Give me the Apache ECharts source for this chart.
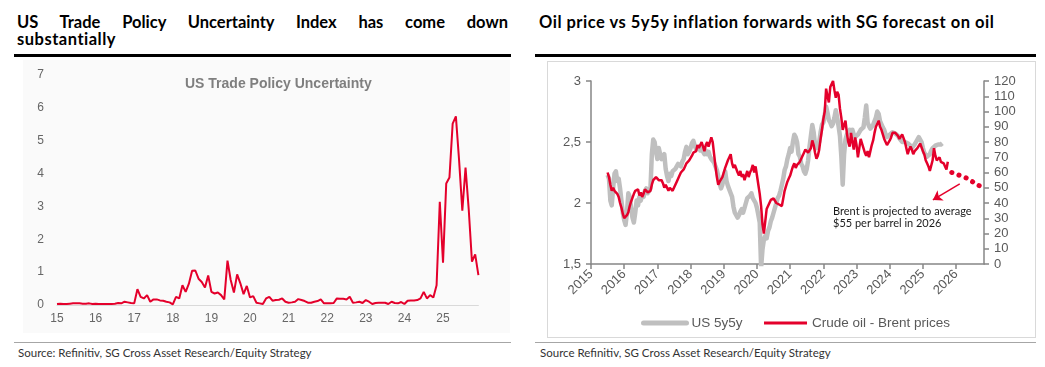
<!DOCTYPE html>
<html><head><meta charset="utf-8">
<script src="https://cdn.jsdelivr.net/npm/echarts@6/dist/echarts.min.js"></script>
<style>
html,body{margin:0;padding:0;background:#fff;width:1045px;height:367px;overflow:hidden;}
.abs{position:absolute;}
.head{font-family:Lato,'Noto Sans',sans-serif;font-weight:700;font-size:16.5px;color:#000;line-height:17px;letter-spacing:0.5px}
.src{font-family:Lato,'Noto Sans',sans-serif;font-size:11.5px;color:#333;line-height:12px;white-space:nowrap}
</style></head><body>
<div class="abs" style="left:23px;top:60px;width:487px;height:273px;background:#fafafa"></div>
<div class="abs" style="left:547px;top:61px;width:489px;height:277px;border:1px solid #d9d9d9;box-sizing:border-box"></div>
<div class="abs head" style="left:17px;top:14px;width:491px;text-align:justify;text-align-last:justify;letter-spacing:0">US Trade Policy Uncertainty Index has come down</div>
<div class="abs head" style="left:17px;top:31px;white-space:nowrap">substantially</div>
<div class="abs head" style="left:539px;top:14px;white-space:nowrap">Oil price vs 5y5y inflation forwards with SG forecast on oil</div>
<div class="abs" style="left:14px;top:54px;width:497px;height:3px;background:#000"></div>
<div class="abs" style="left:535px;top:54px;width:501px;height:3px;background:#000"></div>
<div class="abs" style="left:14px;top:342px;width:497px;height:1px;background:#a6a6a6"></div>
<div class="abs" style="left:535px;top:342px;width:501px;height:1px;background:#a6a6a6"></div>
<div class="abs src" style="left:18px;top:347px">Source: Refinitiv, SG Cross Asset Research/Equity Strategy</div>
<div class="abs src" style="left:540px;top:347px">Source Refinitiv, SG Cross Asset Research/Equity Strategy</div>
<div id="chart" class="abs" style="left:0;top:0;width:1045px;height:367px"></div>
<script>
// US Trade Policy Uncertainty, monthly Jan 2015 .. Dec 2025
const tpuStartYear = 15;
const tpuMonthly = [
  0.03,0.04,0.03,0.03,0.04,0.05,0.05,0.05,0.04,0.04,0.05,0.03,
  0.04,0.03,0.03,0.03,0.03,0.03,0.04,0.06,0.05,0.10,0.08,0.06,
  0.05,0.48,0.25,0.20,0.30,0.10,0.17,0.17,0.14,0.13,0.10,0.08,
  0.02,0.25,0.20,0.60,0.40,0.65,1.04,1.05,0.80,0.70,0.53,0.90,
  0.40,0.35,0.38,0.30,0.17,1.35,0.76,0.38,0.93,0.66,0.33,0.58,
  0.23,0.27,0.07,0.05,0.03,0.20,0.25,0.13,0.15,0.16,0.20,0.10,
  0.07,0.08,0.10,0.18,0.15,0.12,0.07,0.07,0.10,0.12,0.17,0.05,
  0.05,0.05,0.06,0.20,0.19,0.19,0.17,0.25,0.07,0.08,0.10,0.06,
  0.15,0.10,0.03,0.06,0.07,0.07,0.07,0.03,0.10,0.06,0.05,0.09,
  0.03,0.13,0.14,0.14,0.15,0.20,0.40,0.20,0.30,0.23,0.60,3.14,
  1.29,3.70,3.88,5.52,5.74,4.40,2.87,4.18,2.90,1.32,1.54,0.91
];
const tpuYearLabels = ['15','16','17','18','19','20','21','22','23','24','25'];

// Right chart: half-monthly values starting 1 Jul 2015
const halfMonthStart = 2015.5;
const brentHalfMonthly = [
  60,57,52,48,50,48,48,46,44,40,37,33,
  30,29,32,34,38,41,42,46,48,47,49,45,47,44,46,49,50,47,46,48,52,55,54,57,
  57,55,54,55,53,50,52,51,48,50,51,48,50,52,54,55,58,60,61,62,64,66,65,68,
  69,71,73,72,74,78,76,77,80,79,74,78,80,77,80,83,80,72,64,57,52,54,55,57,
  60,63,64,68,70,72,66,63,65,66,60,58,61,57,59,55,58,61,57,60,62,65,60,64,
  58,52,46,38,26,20,28,36,38,39,42,41,43,42,40,41,39,38,38,43,48,51,54,56,
  58,61,64,66,63,65,64,67,68,71,73,75,76,73,72,76,81,78,73,69,71,75,82,88,
  95,100,115,110,106,116,118,120,114,109,113,111,102,96,88,91,94,86,80,77,86,80,75,83,
  78,70,76,82,79,76,73,71,74,70,74,78,81,86,90,92,94,90,88,85,82,80,78,79,
  81,83,86,87,86,87,84,82,83,85,84,80,76,72,75,77,75,72,74,73,76,75,79,80,
  74,72,68,66,64,61,62,68,76,71,68,69,70,67,68,66,64,62,67
];
const us5y5yHalfMonthly = [
  2.23,2.20,2.02,1.98,2.12,2.24,2.26,2.18,2.20,2.12,2.02,1.92,
  1.86,1.82,1.92,2.08,2.05,1.96,1.88,1.84,1.92,2.02,1.98,2.05,2.02,2.07,2.05,2.10,2.12,2.08,2.10,2.12,2.40,2.52,2.50,2.42,
  2.36,2.45,2.40,2.36,2.38,2.40,2.28,2.22,2.18,2.24,2.22,2.26,2.25,2.28,2.30,2.32,2.31,2.30,2.34,2.36,2.42,2.46,2.40,2.42,
  2.45,2.49,2.51,2.47,2.44,2.45,2.46,2.43,2.45,2.42,2.40,2.43,2.40,2.42,2.38,2.36,2.35,2.33,2.30,2.27,2.22,2.16,2.12,2.15,
  2.22,2.26,2.18,2.14,2.15,2.08,2.05,1.97,1.92,1.90,1.88,1.90,1.93,1.95,1.92,1.96,2.00,2.04,2.05,2.06,2.08,2.04,2.05,2.00,
  1.96,1.90,1.84,1.47,1.62,1.70,1.73,1.71,1.77,1.80,1.85,1.88,1.92,1.96,2.00,2.04,2.06,2.10,2.15,2.20,2.27,2.30,2.36,2.40,
  2.45,2.42,2.50,2.56,2.54,2.50,2.40,2.38,2.32,2.30,2.26,2.24,2.28,2.35,2.46,2.55,2.64,2.58,2.48,2.45,2.48,2.50,2.58,2.64,
  2.66,2.72,2.79,2.74,2.68,2.66,2.63,2.65,2.70,2.76,2.70,2.63,2.55,2.38,2.15,2.40,2.52,2.56,2.58,2.60,2.58,2.60,2.56,2.54,
  2.54,2.56,2.58,2.60,2.61,2.62,2.70,2.80,2.66,2.63,2.61,2.62,2.64,2.65,2.70,2.75,2.73,2.67,2.66,2.62,2.60,2.56,2.54,2.55,
  2.56,2.57,2.58,2.58,2.57,2.56,2.55,2.53,2.52,2.50,2.49,2.50,2.50,2.49,2.48,2.47,2.45,2.46,2.48,2.50,2.52,2.54,2.53,2.50,
  2.45,2.41,2.40,2.38,2.38,2.40,2.43,2.45,2.46,2.47,2.48,2.48,2.48,2.48,2.49
];
// SG forecast for Brent (decimal year, USD)
const forecastYears = [2025.87, 2026.3, 2026.72];
const forecastBrent = [60, 56.5, 51];
const oilYearLabels = ['2015','2016','2017','2018','2019','2020','2021','2022','2023','2024','2025','2026'];

const RED = '#e4002b', GREY = '#bfbfbf', AX = '#868686', LBL = '#595959';
const FONT = '"Liberation Sans", Arial, sans-serif';

const chart = echarts.init(document.getElementById('chart'));
chart.setOption({
  animation: false,
  backgroundColor: 'transparent',
  textStyle: { fontFamily: FONT },
  grid: [
    { left: 57, top: 75, width: 421.4, height: 230 },
    { left: 591, top: 81, width: 393, height: 183 }
  ],
  legend: {
    data: [
      { name: 'US 5y5y', lineStyle: { width: 5, cap: 'round', color: GREY } },
      { name: 'Crude oil - Brent prices', lineStyle: { width: 3, color: RED } }
    ],
    left: 636, top: 311, itemWidth: 43, itemHeight: 14, itemGap: 20,
    itemStyle: { opacity: 0 },
    textStyle: { fontSize: 13.5, color: LBL, fontFamily: FONT }
  },
  xAxis: [
    { gridIndex: 0, type: 'value', min: tpuStartYear, max: tpuStartYear + (tpuMonthly.length - 1) / 12, interval: 1,
      axisLine: { lineStyle: { color: '#d9d9d9', width: 1 } }, axisTick: { show: false }, splitLine: { show: false },
      axisLabel: { color: '#666', fontSize: 12, margin: 8, showMaxLabel: false,
        formatter: v => Number.isInteger(v) ? tpuYearLabels[v - tpuStartYear] || '' : '' } },
    { gridIndex: 1, type: 'value', min: 2015, max: 2026.84, interval: 1,
      axisLine: { lineStyle: { color: AX, width: 1.5 } },
      axisTick: { show: true, length: 5, lineStyle: { color: AX, width: 1.5 } }, splitLine: { show: false },
      axisLabel: { rotate: 45, color: LBL, fontSize: 13, margin: 8, showMaxLabel: false,
        formatter: v => Number.isInteger(v) ? oilYearLabels[v - 2015] || '' : '' } }
  ],
  yAxis: [
    { gridIndex: 0, type: 'value', min: 0, max: 7, interval: 1,
      axisLine: { show: false }, axisTick: { show: false }, splitLine: { show: false },
      axisLabel: { color: '#666', fontSize: 12, margin: 13 } },
    { gridIndex: 1, type: 'value', position: 'left', min: 1.5, max: 3, interval: 0.5,
      axisLine: { show: true, lineStyle: { color: AX, width: 1.5 } },
      axisTick: { show: true, length: 5, lineStyle: { color: AX, width: 1.5 } }, splitLine: { show: false },
      axisLabel: { color: LBL, fontSize: 13, margin: 10, formatter: v => String(v).replace('.', ',') } },
    { gridIndex: 1, type: 'value', position: 'right', min: 0, max: 120, interval: 10,
      axisLine: { show: true, lineStyle: { color: AX, width: 1.5 } },
      axisTick: { show: true, length: 5, lineStyle: { color: AX, width: 1.5 } }, splitLine: { show: false },
      axisLabel: { color: LBL, fontSize: 13, margin: 10 } }
  ],
  graphic: [
    { type: 'text', left: 185, top: 77, style: { text: 'US Trade Policy Uncertainty', fill: '#7f7f7f', font: 'bold 14px ' + FONT } },
    { type: 'text', left: 833, top: 205, style: { text: 'Brent is projected to average\n$55 per barrel in 2026', fill: '#1a1a1a', font: '11px Lato, sans-serif', lineHeight: 12.5 } }
  ],
  series: [
    { name: 'TPU', type: 'line', xAxisIndex: 0, yAxisIndex: 0, symbol: 'none',
      data: tpuMonthly.map((v, i) => [tpuStartYear + i / 12, v]),
      lineStyle: { color: RED, width: 2 }, itemStyle: { color: RED } },
    { name: 'US 5y5y', type: 'line', xAxisIndex: 1, yAxisIndex: 1, symbol: 'none',
      data: us5y5yHalfMonthly.map((v, i) => [halfMonthStart + i / 24, v]),
      lineStyle: { color: GREY, width: 4.5, join: 'round' }, itemStyle: { color: GREY } },
    { name: 'Crude oil - Brent prices', type: 'line', xAxisIndex: 1, yAxisIndex: 2, symbol: 'none',
      data: brentHalfMonthly.map((v, i) => [halfMonthStart + i / 24, v]),
      lineStyle: { color: RED, width: 2.5 }, itemStyle: { color: RED } },
    { name: 'forecast', type: 'line', xAxisIndex: 1, yAxisIndex: 2, symbol: 'none',
      data: forecastYears.map((x, i) => [x, forecastBrent[i]]),
      lineStyle: { color: RED, width: 5, type: [0.1, 7.5], cap: 'round' },
      markLine: { silent: true, symbol: ['none', 'arrow'], symbolSize: 9,
        lineStyle: { color: RED, width: 1.5, type: 'solid' }, label: { show: false },
        data: [[{ coord: [2026.11, 52.5] }, { coord: [2025.3, 42] }]] } }
  ]
});
</script>
</body></html>
